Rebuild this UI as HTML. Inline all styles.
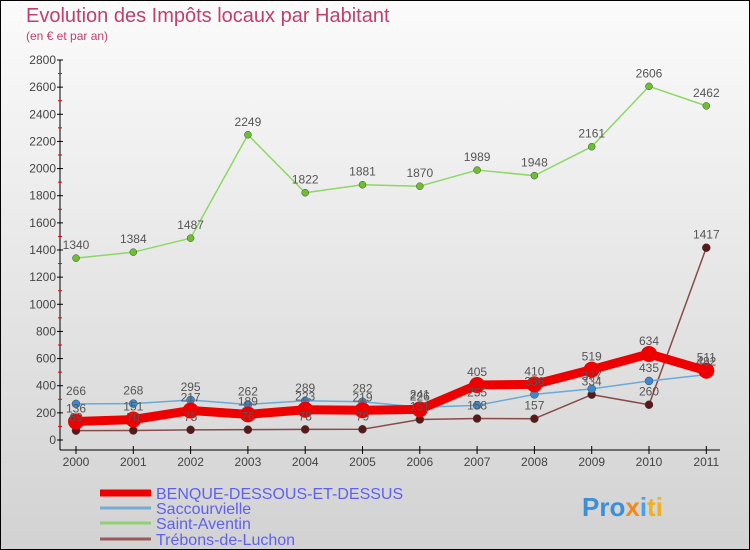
<!DOCTYPE html>
<html><head><meta charset="utf-8"><style>
body{margin:0;}
#wrap{width:750px;height:550px;position:relative;overflow:hidden;font-family:"Liberation Sans",sans-serif;}
</style></head><body>
<div id="wrap">
<svg id="chart" width="750" height="550" xmlns="http://www.w3.org/2000/svg">
<defs><linearGradient id="bg" x1="0" y1="0" x2="0" y2="1"><stop offset="0" stop-color="#fbfbfb"/><stop offset="1" stop-color="#d2d2d2"/></linearGradient></defs>
<rect x="0.5" y="0.5" width="749" height="549" fill="url(#bg)" stroke="#000"/>
<text x="26" y="22" font-size="20" fill="#c0406a">Evolution des Impôts locaux par Habitant</text>
<text x="26" y="40" font-size="12" fill="#c0406a">(en € et par an)</text>
<g id="axes"></g><g id="series"></g><g id="labels"></g><g id="legend"></g>
<g><text x="582" y="516" font-size="26" font-weight="bold" fill="#3a8fd8">Pro<tspan fill="#f08a1c">x</tspan><tspan fill="#4aa0e0">i</tspan><tspan fill="#f0b020">ti</tspan></text></g>
</svg>
</div>
<script>
const years=["2000","2001","2002","2003","2004","2005","2006","2007","2008","2009","2010","2011"];
const yTicks=[0,200,400,600,800,1000,1200,1400,1600,1800,2000,2200,2400,2600,2800];
const benque=[136,151,217,189,223,219,226,405,410,519,634,511];
const saccourvielle=[266,268,295,262,289,282,241,255,336,377,435,482];
const saintAventin=[1340,1384,1487,2249,1822,1881,1870,1989,1948,2161,2606,2462];
const trebons=[69,70,75,76,78,79,151,158,157,334,260,1417];
const seriesNames=["BENQUE-DESSOUS-ET-DESSUS","Saccourvielle","Saint-Aventin","Trébons-de-Luchon"];
const NS="http://www.w3.org/2000/svg";
const X=i=>76+i*57.3;
const Y=v=>440-v*380/2800;
function mk(tag,attrs,parent,txt){const e=document.createElementNS(NS,tag);for(const k in attrs)e.setAttribute(k,attrs[k]);if(txt!==undefined)e.textContent=txt;parent.appendChild(e);return e;}
const axes=document.getElementById('axes');
let e=mk('line',{x1:60,y1:60,x2:60,y2:450,stroke:'#000'},axes);


e=mk('line',{x1:60,y1:450,x2:720,y2:450,stroke:'#000'},axes);


yTicks.forEach((t,i)=>{
 const y=Y(t);
 mk('line',{x1:57,y1:y,x2:63,y2:y,stroke:'#000'},axes);
 if(i<yTicks.length-1) mk('line',{x1:58,y1:Y(t+100),x2:62,y2:Y(t+100),stroke:'#e00'},axes);
 const l=mk('text',{x:56,y:y+4,'font-size':12,'text-anchor':'end',fill:'#444'},axes,t);
 
 
});
years.forEach((yr,i)=>{
 mk('line',{x1:X(i),y1:446,x2:X(i),y2:454,stroke:'#000'},axes);
 const l=mk('text',{x:X(i),y:466,'font-size':12,'text-anchor':'middle',fill:'#444'},axes,yr);
 
 
});
const ser=document.getElementById('series');
const lab=document.getElementById('labels');
const defs=[
 {d:saintAventin,c:'#8cd860',m:'#6cc030',w:1.5,r:3.5,n:'saint-aventin'},
 {d:trebons,c:'#8a4a4a',m:'#5a1818',w:1.5,r:4,n:'trebons-de-luchon'},
 {d:saccourvielle,c:'#6aaad8',m:'#3a8ad0',w:1.5,r:4,n:'saccourvielle'},
 {d:benque,c:'#ee0000',m:'#ee0000',w:9,r:8,n:'benque-dessous-et-dessus'}
];
defs.forEach(s=>{
 const g=mk('g',{},ser);
 
 
 const p=mk('polyline',{points:s.d.map((v,i)=>X(i)+','+Y(v)).join(' '),fill:'none',stroke:s.c,'stroke-width':s.w,'stroke-linejoin':'round'},g);
 
 
 s.d.forEach((v,i)=>{
  const c=mk('circle',{cx:X(i),cy:Y(v),r:s.r,fill:s.m,stroke:'#444','stroke-width':s.w>2?0:0.5},g);
  
  
  const t=mk('text',{x:X(i),y:Y(v)-9,'font-size':12,'text-anchor':'middle',fill:'#555'},lab,v);
  
  
 });
});
const leg=document.getElementById('legend');
const lc=['#ee0000','#7aaad0','#90d070','#9a5a5a'];
const lw=[7,3,3,3];
seriesNames.forEach((n,i)=>{
 const y=[493,508,523,539][i];
 const g=mk('g',{},leg);
 
 
 mk('line',{x1:100,y1:y,x2:151,y2:y,stroke:lc[i],'stroke-width':lw[i]},g);
 mk('text',{x:156,y:y+6,'font-size':16,fill:'#6060f0'},g,n);
});
</script>
</body></html>
